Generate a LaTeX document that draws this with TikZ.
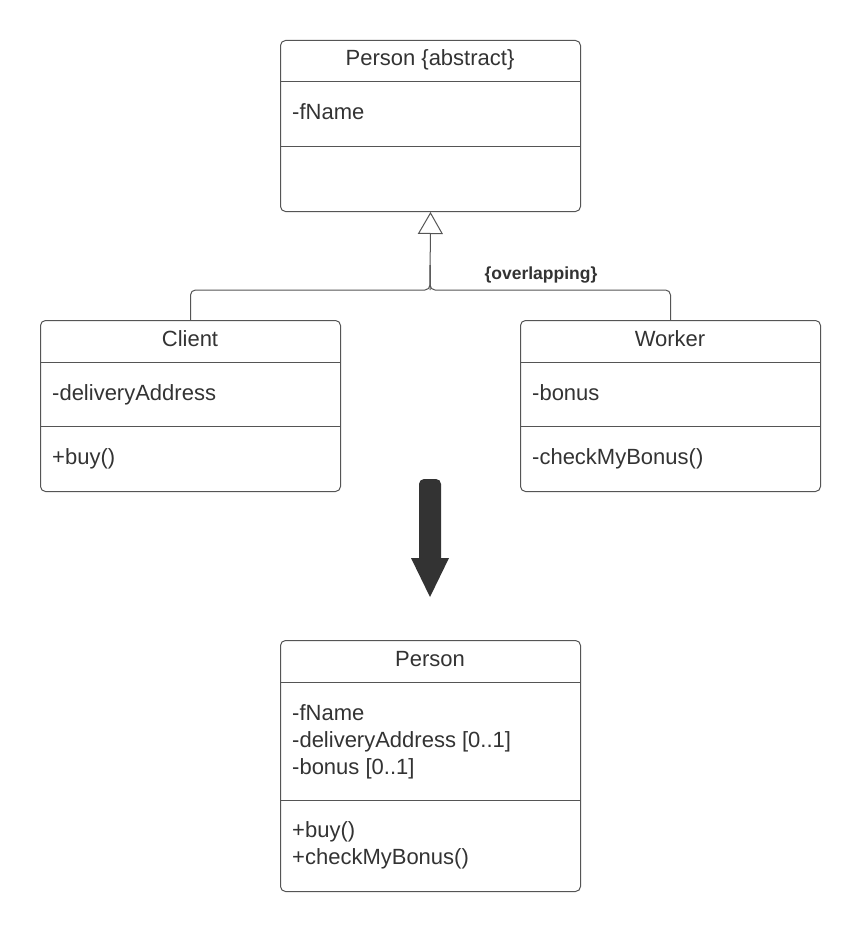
\documentclass[tikz,border=0pt]{standalone}
\usepackage{fontspec}
\setmainfont{Liberation Sans}
\usetikzlibrary{arrows.meta}
\definecolor{ink}{HTML}{333333}
\definecolor{edge}{HTML}{555555}
\begin{document}
\begin{tikzpicture}[x=1pt,y=-1pt,
  classbox/.style={draw=edge, line width=1pt, rounded corners=5pt, minimum width=300pt, inner sep=0pt, anchor=north west},
  divider/.style={draw=edge, line width=1pt},
  conn/.style={draw=edge, line width=1pt},
  title/.style={text=ink, font=\fontsize{22}{27}\selectfont, inner sep=0pt, anchor=base},
  member/.style={text=ink, font=\fontsize{22}{27}\selectfont, inner sep=0pt, anchor=base west},
  constraint/.style={text=ink, font=\fontsize{17.5}{20}\selectfont\bfseries, inner sep=0pt, anchor=base}
]
\fill[white] (0,0) rectangle (860,931);
\useasboundingbox (0,0) rectangle (860,931);

% Person {abstract}
\node[classbox, minimum height=171pt] (p1) at (280,40) {};
\draw[divider] (280,82) -- (580,82);
\draw[divider] (280,146) -- (580,146);
\node[title] (p1t) at (430,66) {Person \{abstract\}};
\node[member] (p1a) at (292,120) {-fName};

% Client
\node[classbox, minimum height=171pt] (cl) at (40,320) {};
\draw[divider] (40,362) -- (340,362);
\draw[divider] (40,426) -- (340,426);
\node[title] (clt) at (190,346) {Client};
\node[member] (cla) at (52,400) {-deliveryAddress};
\node[member] (clm) at (52,464) {+buy()};

% Worker
\node[classbox, minimum height=171pt] (wk) at (520,320) {};
\draw[divider] (520,362) -- (820,362);
\draw[divider] (520,426) -- (820,426);
\node[title] (wkt) at (670,346) {Worker};
\node[member] (wka) at (532,400) {-bonus};
\node[member] (wkm) at (532,464) {-checkMyBonus()};

% generalization
\coordinate (jn) at (430,290);
\coordinate (jup) at (430,265);
\draw[conn, rounded corners=5pt] (cl.north) |- (jn) -- (jup);
\draw[conn, rounded corners=5pt] (wk.north) |- (jn) -- (jup);
\draw[conn, -{Triangle[open, width=25pt, length=22pt, line width=1pt]}] (jn) -- (p1.south);
\node[constraint] (ov) at (541,279) {\{overlapping\}};

% big arrow
\fill[ink, rounded corners=5pt] (419,566) -- (419,479) -- (441,479) -- (441,566) -- cycle;
\fill[ink] (411,558) -- (449,558) -- (430,597) -- cycle;

% Person (result)
\node[classbox, minimum height=251pt] (p2) at (280,640) {};
\draw[divider] (280,682) -- (580,682);
\draw[divider] (280,800) -- (580,800);
\node[title] (p2t) at (430,666) {Person};
\node[member] (p2a1) at (292,720) {-fName};
\node[member] (p2a2) at (292,747) {-deliveryAddress [0..1]};
\node[member] (p2a3) at (292,774) {-bonus [0..1]};
\node[member] (p2m1) at (292,837) {+buy()};
\node[member] (p2m2) at (292,864) {+checkMyBonus()};
\end{tikzpicture}
\end{document}
